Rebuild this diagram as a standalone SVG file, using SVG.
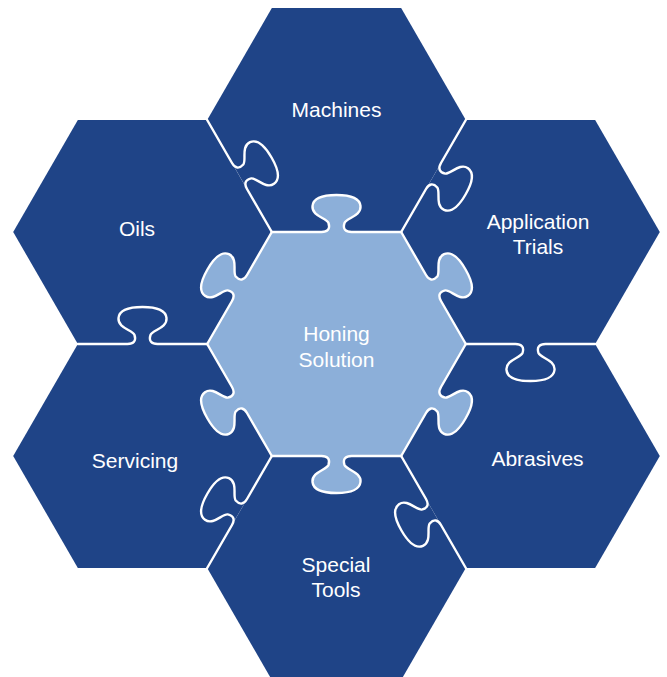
<svg xmlns="http://www.w3.org/2000/svg" xmlns:xlink="http://www.w3.org/1999/xlink" width="667" height="677" viewBox="0 0 667 677">
<style>
.hex{fill:#1f4487}
.core{fill:#8cafd9}
.lbl{fill:#ffffff;font-family:"Liberation Sans",Arial,sans-serif;font-size:21px;text-anchor:middle}
.seam{fill:none;stroke:#ffffff;stroke-width:2.4;stroke-linejoin:round;stroke-linecap:round}
</style>
<defs>
<path id="seam" d="M -64.65 0 L -15 0 C -9 0 -6 -3 -8 -9 C -10 -14 -25 -16 -24 -26 C -23 -35 -12 -37 0 -37 C 12 -37 23 -35 24 -26 C 25 -16 10 -14 8 -9 C 6 -3 9 0 15 0 L 64.65 0"/>
<path id="knob" d="M -15 0 C -9 0 -6 -3 -8 -9 C -10 -14 -25 -16 -24 -26 C -23 -35 -12 -37 0 -37 C 12 -37 23 -35 24 -26 C 25 -16 10 -14 8 -9 C 6 -3 9 0 15 0 L 15 2 L -15 2 Z"/>
</defs>

<g id="machines">
<polygon class="hex" points="207.2,120 271.85,8 401.15,8 465.8,120 401.15,232 271.85,232"/>
<text class="lbl" x="336.5" y="116.5">Machines</text>
</g>
<g id="application-trials">
<polygon class="hex" points="401.2,232 465.85,120 595.15,120 659.8,232 595.15,344 465.85,344"/>
<text class="lbl" x="538" y="228.5">Application</text>
<text class="lbl" x="538" y="254">Trials</text>
</g>
<g id="abrasives">
<polygon class="hex" points="401.2,456 465.85,344 595.15,344 659.8,456 595.15,568 465.85,568"/>
<text class="lbl" x="537.5" y="466">Abrasives</text>
</g>
<g id="special-tools">
<polygon class="hex" points="207.2,568 271.85,456 401.15,456 465.8,568 401.15,680 271.85,680"/>
<text class="lbl" x="336" y="571.5">Special</text>
<text class="lbl" x="336" y="597">Tools</text>
</g>
<g id="servicing">
<polygon class="hex" points="13.2,456 77.85,344 207.15,344 271.8,456 207.15,568 77.85,568"/>
<text class="lbl" x="135" y="467.5">Servicing</text>
</g>
<g id="oils">
<polygon class="hex" points="13.2,232 77.85,120 207.15,120 271.8,232 207.15,344 77.85,344"/>
<text class="lbl" x="137" y="236">Oils</text>
</g>

<g id="connectors">
<use xlink:href="#seam" class="seam" transform="translate(239.5,176) rotate(60)"/>
<use xlink:href="#seam" class="seam" transform="translate(433.5,176) rotate(120)"/>
<use xlink:href="#seam" class="seam" transform="translate(530.5,344) rotate(180)"/>
<use xlink:href="#seam" class="seam" transform="translate(433.5,512) rotate(-120)"/>
<use xlink:href="#seam" class="seam" transform="translate(239.5,512) rotate(-60)"/>
<use xlink:href="#seam" class="seam" transform="translate(142.5,344) rotate(0)"/>
</g>

<g id="honing-solution">
<polygon class="core" points="207.2,344 271.85,232 401.15,232 465.8,344 401.15,456 271.85,456"/>
<use xlink:href="#knob" class="core" transform="translate(336.5,232) rotate(0)"/>
<use xlink:href="#knob" class="core" transform="translate(433.5,288) rotate(60)"/>
<use xlink:href="#knob" class="core" transform="translate(433.5,400) rotate(120)"/>
<use xlink:href="#knob" class="core" transform="translate(336.5,456) rotate(180)"/>
<use xlink:href="#knob" class="core" transform="translate(239.5,400) rotate(-120)"/>
<use xlink:href="#knob" class="core" transform="translate(239.5,288) rotate(-60)"/>
<use xlink:href="#seam" class="seam" transform="translate(336.5,232) rotate(0)"/>
<use xlink:href="#seam" class="seam" transform="translate(433.5,288) rotate(60)"/>
<use xlink:href="#seam" class="seam" transform="translate(433.5,400) rotate(120)"/>
<use xlink:href="#seam" class="seam" transform="translate(336.5,456) rotate(180)"/>
<use xlink:href="#seam" class="seam" transform="translate(239.5,400) rotate(-120)"/>
<use xlink:href="#seam" class="seam" transform="translate(239.5,288) rotate(-60)"/>
<text class="lbl" x="336.5" y="341">Honing</text>
<text class="lbl" x="336.5" y="366.5">Solution</text>
</g>
</svg>
